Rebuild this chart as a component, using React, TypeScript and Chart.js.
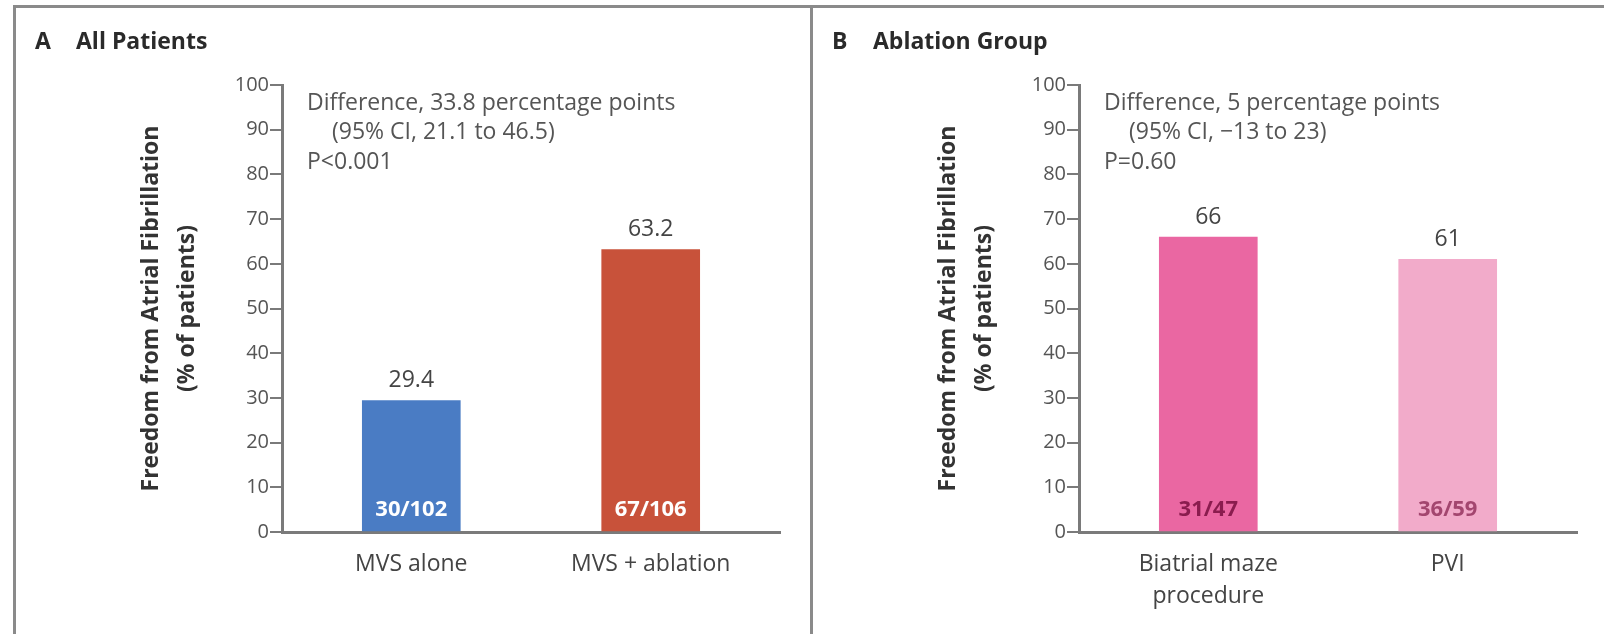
import React, { useEffect, useRef } from 'react';
import { Chart, registerables } from 'chart.js';

Chart.register(...registerables);

const FONT = "'Open Sans', 'Noto Sans', sans-serif";

// ---------- data ----------
const yAxisTitle = ['Freedom from Atrial Fibrillation', '(% of patients)'];

const panelATitle = ['A', 'All Patients'];
const panelACategories: (string | string[])[] = ['MVS alone', 'MVS + ablation'];
const panelAValues = [29.4, 63.2];
const panelAValueLabels = ['29.4', '63.2'];
const panelACounts = ['30/102', '67/106'];
const panelAColors = ['#4a7cc4', '#c8523a'];
const panelACountColors = ['#ffffff', '#ffffff'];
const panelANotes = ['Difference, 33.8 percentage points', '(95% CI, 21.1 to 46.5)', 'P<0.001'];

const panelBTitle = ['B', 'Ablation Group'];
const panelBCategories: (string | string[])[] = [['Biatrial maze', 'procedure'], 'PVI'];
const panelBValues = [66, 61];
const panelBValueLabels = ['66', '61'];
const panelBCounts = ['31/47', '36/59'];
const panelBColors = ['#ea67a2', '#f2abca'];
const panelBCountColors = ['#8a1c4e', '#a3466f'];
const panelBNotes = ['Difference, 5 percentage points', '(95% CI, \u221213 to 23)', 'P=0.60'];

type Panel = {
  title: string[];
  categories: (string | string[])[];
  values: number[];
  valueLabels: string[];
  counts: string[];
  colors: string[];
  countColors: string[];
  notes: string[];
};

const panels: Panel[] = [
  { title: panelATitle, categories: panelACategories, values: panelAValues, valueLabels: panelAValueLabels, counts: panelACounts, colors: panelAColors, countColors: panelACountColors, notes: panelANotes },
  { title: panelBTitle, categories: panelBCategories, values: panelBValues, valueLabels: panelBValueLabels, counts: panelBCounts, colors: panelBColors, countColors: panelBCountColors, notes: panelBNotes },
];

const AXIS = '#7a7a7a';

function makeAnnotate(p: Panel) {
  return {
    id: 'annotate',
    afterDraw(chart: any) {
      const { ctx, chartArea } = chart;
      ctx.save();
      ctx.textBaseline = 'middle';
      ctx.textAlign = 'left';
      // panel heading
      ctx.font = `bold 23px ${FONT}`;
      ctx.fillStyle = '#2a2a2a';
      ctx.fillText(p.title[0], 20, 42);
      ctx.fillText(p.title[1], 61, 42);
      // statistics notes
      ctx.font = `23px ${FONT}`;
      ctx.fillStyle = '#555555';
      const x0 = chartArea.left + 25;
      p.notes.forEach((t, i) => {
        ctx.fillText(t, x0 + (i === 1 ? 25 : 0), chartArea.top + 18 + i * 29.5);
      });
      // bar labels
      const meta = chart.getDatasetMeta(0);
      meta.data.forEach((bar: any, i: number) => {
        ctx.textAlign = 'center';
        ctx.font = `23px ${FONT}`;
        ctx.fillStyle = '#444444';
        ctx.fillText(p.valueLabels[i], bar.x, bar.y - 20);
        ctx.font = `bold 22px ${FONT}`;
        ctx.fillStyle = p.countColors[i];
        ctx.fillText(p.counts[i], bar.x, bar.base - 21);
      });
      ctx.restore();
    },
  };
}

function BarPanel({ panel, left }: { panel: Panel; left: number }) {
  const ref = useRef<HTMLCanvasElement>(null);
  useEffect(() => {
    if (!ref.current) return;
    const chart = new Chart(ref.current, {
      type: 'bar',
      data: {
        datasets: [
          {
            data: panel.values.map((v, i) => ({ x: i, y: v })),
            backgroundColor: panel.colors,
            borderWidth: 0,
            barThickness: 98,
          },
        ],
      },
      options: {
        responsive: false,
        animation: false,
        layout: { padding: { left: 0, right: 32, top: 85, bottom: 0 } },
        plugins: { legend: { display: false }, tooltip: { enabled: false } },
        scales: {
          x: {
            type: 'linear',
            min: -0.54,
            max: 1.54,
            bounds: 'data',
            offset: false,
            afterBuildTicks: (s: any) => {
              s.ticks = panel.categories.map((_, i) => ({ value: i }));
            },
            afterFit: (s: any) => {
              s.height = 102;
            },
            grid: { display: true, offset: false, drawOnChartArea: false, drawTicks: false },
            border: { display: true, color: AXIS, width: 3 },
            ticks: {
              autoSkip: false,
              maxRotation: 0,
              padding: 16,
              color: '#444444',
              font: { family: FONT, size: 23, lineHeight: '32px' },
              callback: (v: any) => panel.categories[v] as any,
            },
          },
          y: {
            min: 0,
            max: 100,
            afterFit: (s: any) => {
              s.width = 267;
            },
            grid: { drawOnChartArea: false, drawTicks: true, tickLength: 12, color: AXIS, lineWidth: 2 },
            border: { display: true, color: AXIS, width: 3 },
            ticks: { stepSize: 10, padding: 1, color: '#555555', font: { family: FONT, size: 20 } },
            title: {
              display: true,
              text: yAxisTitle,
              color: '#333333',
              font: { family: FONT, size: 23, weight: 'bold', lineHeight: '36px' },
              padding: { top: 118, bottom: 0 },
            },
          },
        },
      } as any,
      plugins: [makeAnnotate(panel)],
    });
    return () => chart.destroy();
  }, [panel]);
  return (
    <canvas
      ref={ref}
      width={797}
      height={634}
      style={{ position: 'absolute', left, top: 0, width: 797, height: 634, display: 'block' }}
    />
  );
}

export default function App() {
  return (
    <div style={{ position: 'fixed', left: 0, top: 0, width: 1604, height: 634, overflow: 'hidden', background: '#ffffff' }}>
      <div style={{ position: 'absolute', left: 13, top: 5, width: 1600, height: 640, borderTop: '3px solid #8a8a8a', borderLeft: '3px solid #8a8a8a' }} />
      <div style={{ position: 'absolute', left: 810, top: 5, width: 3, height: 629, background: '#8a8a8a' }} />
      <BarPanel panel={panels[0]} left={15} />
      <BarPanel panel={panels[1]} left={812} />
    </div>
  );
}
